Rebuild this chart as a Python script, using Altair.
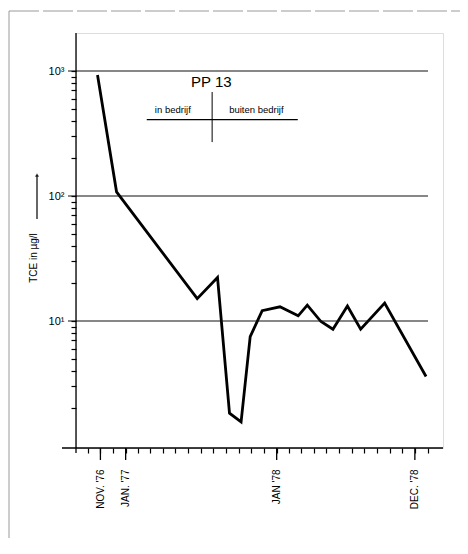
import altair as alt
import pandas as pd

# ---- data ----
dates = ["1976-10-25", "1976-12-10", "1977-06-23", "1977-08-11", "1977-09-09",
         "1977-10-07", "1977-10-29", "1977-11-27", "1978-01-09", "1978-02-22",
         "1978-03-16", "1978-04-18", "1978-05-17", "1978-06-21", "1978-07-23",
         "1978-09-19", "1978-12-28"]
tce = [930, 108, 15.1, 22.3, 1.83, 1.56, 7.5, 12.1, 13.0, 11.0,
       13.4, 9.9, 8.6, 13.2, 8.6, 13.9, 3.6]

major_dates = ["1976-11-01", "1977-01-01", "1978-01-01", "1978-12-01"]
major_labels = ["NOV. '76", "JAN. '77", "JAN '78", "DEC. '78"]

grid_values = [10, 100, 1000]
grid_labels = ["10¹", "10²", "10³"]

minor_y = [m * d for d in (1, 10, 100) for m in range(2, 10)] + grid_values

# annotation
title_text = "PP 13"
status_labels = ["in bedrijf", "buiten bedrijf"]
status_dates = ["1977-04-25", "1977-11-13"]
switch_date = "1977-07-29"

# ---- helpers ----
def dt(s):
    y, m, d = map(int, s.split("-"))
    return alt.DateTime(year=y, month=m, date=d, utc=True)

months = []
for y in (1976, 1977, 1978, 1979):
    for m in range(1, 13):
        if (1976, 10) <= (y, m) <= (1979, 1):
            months.append(alt.DateTime(year=y, month=m, date=1, utc=True))

label_expr = "''"
for d, lab in zip(reversed(major_dates), reversed(major_labels)):
    yy, mm, _ = map(int, d.split("-"))
    label_expr = (f"(utcyear(datum.value)=={yy} && utcmonth(datum.value)=={mm-1}) ? "
                  f"\"{lab}\" : ({label_expr})")

ylab_expr = "''"
for v, lab in zip(grid_values, grid_labels):
    ylab_expr = f"datum.value=={v} ? '{lab}' : ({ylab_expr})"

W, H = 367, 415
FONT = "Liberation Sans"

xscale = alt.Scale(type="utc", domain=[dt("1976-09-03"), dt("1979-02-07")], nice=False)
yscale = alt.Scale(type="log", domain=[0.964, 2014], nice=False)

xaxis = alt.Axis(values=months, labelExpr=label_expr, labelAngle=270,
                 tickSize=5, tickColor="black", tickWidth=1.2, domain=False,
                 grid=False, labelPadding=16, labelFontSize=10, labelFont=FONT,
                 labelColor="black", labelOverlap=False, title=None,
                 labelFlush=False)
yaxis = alt.Axis(values=minor_y, labelExpr=ylab_expr, tickSize=5,
                 tickColor="black", tickWidth=1.2, domain=False, grid=False,
                 labelPadding=7, labelFontSize=11, labelFont=FONT,
                 labelColor="black", labelOverlap=False, title=None)

def X(f):
    return alt.X(f, scale=xscale, axis=xaxis)

def Y(f):
    return alt.Y(f, scale=yscale, axis=yaxis)

df = pd.DataFrame({"date": dates, "tce": tce})
one = pd.DataFrame({"a": [0]})

line = alt.Chart(df).mark_line(color="black", strokeWidth=2.8, strokeJoin="miter").encode(
    x=X("date:T"), y=Y("tce:Q"))

grid = alt.Chart(pd.DataFrame({"v": grid_values})).mark_rule(
    color="#111", strokeWidth=1.2).encode(
    y=Y("v:Q"), x=alt.value(-8), x2=alt.value(352))

majors = alt.Chart(pd.DataFrame({"d": major_dates})).mark_rule(
    color="black", strokeWidth=1.3).encode(
    x=X("d:T"), y=alt.value(H), y2=alt.value(H + 12))

yaxis_line = alt.Chart(one).mark_rule(color="black", strokeWidth=1.3).encode(
    x=alt.value(0), y=alt.value(0), y2=alt.value(H + 5))
xaxis_line = alt.Chart(one).mark_rule(color="black", strokeWidth=1.3).encode(
    y=alt.value(H), x=alt.value(-14), x2=alt.value(367))

# annotation: PP 13, in bedrijf / buiten bedrijf
pp = alt.Chart(pd.DataFrame({"d": ["1977-07-27"], "v": [820], "t": [title_text]})).mark_text(
    font=FONT, fontSize=15, color="black", baseline="middle").encode(
    x=X("d:T"), y=Y("v:Q"), text="t:N")
status = alt.Chart(pd.DataFrame({"d": status_dates, "v": [488, 488], "t": status_labels})).mark_text(
    font=FONT, fontSize=9.5, color="black", baseline="middle").encode(
    x=X("d:T"), y=Y("v:Q"), text="t:N")
hline = alt.Chart(pd.DataFrame({"d": ["1977-02-21"], "d2": ["1978-02-21"], "v": [409]})).mark_rule(
    color="black", strokeWidth=1.2).encode(
    x=X("d:T"), x2="d2:T", y=Y("v:Q"))
vline = alt.Chart(pd.DataFrame({"d": [switch_date], "v": [679], "v2": [270]})).mark_rule(
    color="black", strokeWidth=1).encode(
    x=X("d:T"), y=Y("v:Q"), y2="v2:Q")

# y title with arrow
ytitle = alt.Chart(pd.DataFrame({"t": ["TCE in µg/l"]})).mark_text(
    font=FONT, fontSize=10, angle=270, color="black", baseline="middle", align="center").encode(
    x=alt.value(-42), y=alt.value(225), text="t:N")
yarrow = alt.Chart(one).mark_rule(color="black", strokeWidth=1.2).encode(
    x=alt.value(-39), y=alt.value(142), y2=alt.value(186))
yarrow_head = alt.Chart(one).mark_point(shape="triangle-up", filled=True, color="black", size=18).encode(
    x=alt.value(-39), y=alt.value(142))

# scanned page frame
frame_left = alt.Chart(one).mark_rule(color="#9a9a9a", strokeWidth=1).encode(
    x=alt.value(-67), y=alt.value(-22), y2=alt.value(510))
frame_top = alt.Chart(one).mark_rule(color="#9a9a9a", strokeWidth=1, strokeDash=[30, 4]).encode(
    y=alt.value(-22), x=alt.value(-67), x2=alt.value(390))
frame_right = alt.Chart(one).mark_rule(color="#c8c8c8", strokeWidth=1, strokeDash=[14, 10]).encode(
    x=alt.value(389), y=alt.value(300), y2=alt.value(510))

chart = alt.layer(
    line, frame_left, frame_top, frame_right,
    grid, majors, yaxis_line, xaxis_line,
    pp, status, hline, vline, ytitle, yarrow, yarrow_head
).properties(
    width=W, height=H,
    autosize=alt.AutoSizeParams(type="none"),
    padding={"left": 68, "top": 25, "right": 17, "bottom": 90},
).configure_view(stroke=None).configure(background="white")

chart.save("out.html", embed_options={"renderer": "svg", "actions": False})
